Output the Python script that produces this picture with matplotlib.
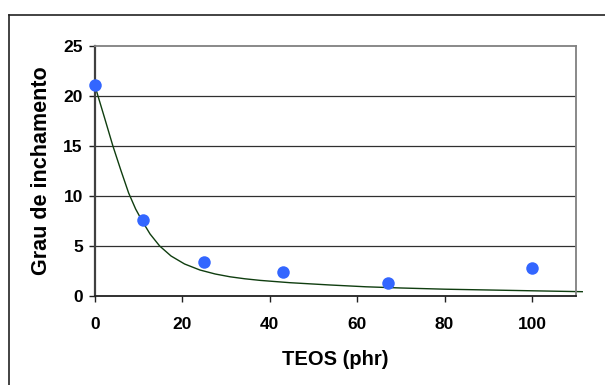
import matplotlib
matplotlib.use('Agg')
import matplotlib.pyplot as plt
from matplotlib.lines import Line2D

# measured points
teos = [0, 11, 25, 43, 67, 100]
grau = [21.1, 7.6, 3.4, 2.4, 1.3, 2.8]

# trend line
curva_x = [0, 2.2, 4.1, 5.9, 7.7, 9.3, 10.8, 12.6, 14.8, 17.4, 20.5, 24,
           27.5, 30.9, 34.3, 37.8, 44.6, 53.8, 62, 70, 80, 90, 100, 111.5]
curva_y = [21.0, 17.8, 15.0, 12.6, 10.3, 8.7, 7.5, 6.2, 5.0, 4.0, 3.2, 2.6,
           2.2, 1.92, 1.72, 1.56, 1.33, 1.1, 0.92, 0.8, 0.68, 0.6, 0.52, 0.43]

xticks = [0, 20, 40, 60, 80, 100]
yticks = [0, 5, 10, 15, 20, 25]

plt.rcParams['font.family'] = 'Liberation Sans'
plt.rcParams['font.weight'] = 'bold'

fig = plt.figure(figsize=(6.05, 3.85), dpi=100)
ax = fig.add_axes([0.157, 0.2312, 0.7946, 0.6493])

# outer chart frame (only top/left visible)
fig.add_artist(Line2D([0.0149, 0.0149], [0.0, 0.961], color='#222222', lw=1.2))
fig.add_artist(Line2D([0.0149, 1.0], [0.961, 0.961], color='#222222', lw=1.2))

for yv in yticks[1:-1]:
    ax.axhline(yv, color='#303030', lw=0.9, zorder=1)

ax.plot(curva_x, curva_y, color='#0f3d0f', lw=1.0, zorder=2, clip_on=False)
ax.plot(teos, grau, 'o', color='#3366ff', markersize=9, markeredgewidth=0,
        zorder=3, clip_on=False)

ax.set_xlim(0, 110)
ax.set_ylim(0, 25)
ax.set_xticks(xticks)
ax.set_yticks(yticks)

ax.spines['top'].set_color('#808080')
ax.spines['top'].set_linewidth(1.3)
ax.spines['right'].set_color('#808080')
ax.spines['right'].set_linewidth(1.3)
ax.spines['left'].set_color('#404040')
ax.spines['left'].set_linewidth(1.6)
ax.spines['bottom'].set_color('#202020')
ax.spines['bottom'].set_linewidth(1.3)

ax.tick_params(axis='x', direction='out', length=4.3, width=1, pad=11,
               labelsize=12.5, color='#202020')
ax.tick_params(axis='y', direction='out', length=4.3, width=1, pad=4.5,
               labelsize=12.5, color='#202020')
for lab in ax.get_xticklabels() + ax.get_yticklabels():
    lab.set_fontweight('bold')

ax.set_xlabel('TEOS (phr)', fontsize=14.5, fontweight='bold', labelpad=13)
ax.set_ylabel('Grau de inchamento', fontsize=15.5, fontweight='bold', labelpad=8)

fig.savefig('out.png', dpi=100)
